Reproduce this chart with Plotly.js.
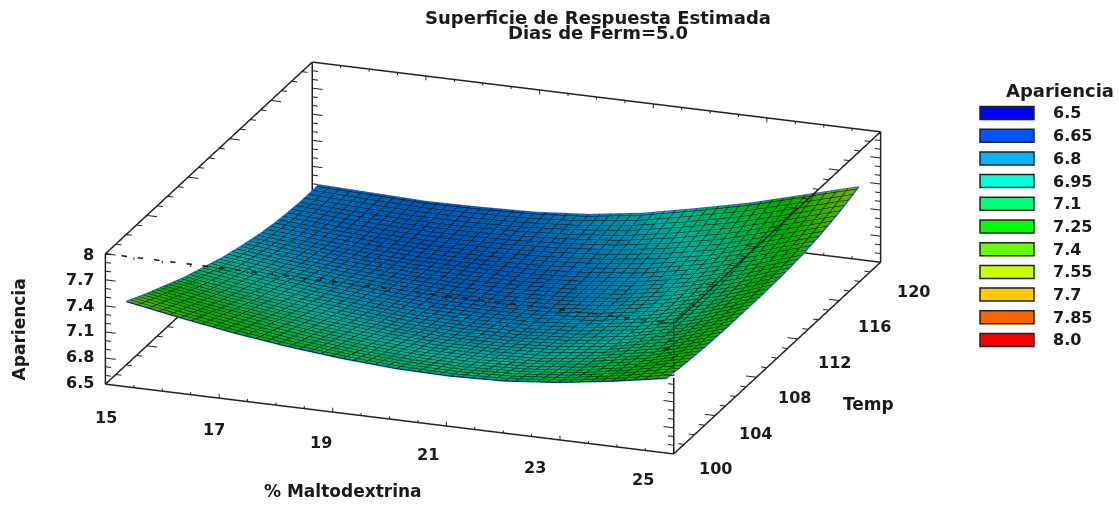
<!DOCTYPE html>
<html>
<head>
<meta charset="utf-8">
<script src="https://cdn.plot.ly/plotly-3.0.1.min.js"></script>
<style>html,body{margin:0;padding:0;background:#fff}#chart{width:1119px;height:505px}</style>
</head>
<body>
<div id="chart"></div>
<script>
// ---- data ----
const maltodextrina = [15.37,16.32,17.27,18.22,19.17,20.12,21.07,22.02,22.97,23.92,24.87];
const temp = [100,101.86,103.72,105.58,107.44,109.3,111.16,113.02,114.88,116.74,118.6];
const apariencia = [
 [7.48,7.37,7.27,7.19,7.13,7.09,7.08,7.10,7.16,7.25,7.36],
 [7.36,7.26,7.17,7.09,7.03,7.00,6.99,7.02,7.08,7.19,7.33],
 [7.25,7.15,7.07,7.00,6.95,6.92,6.92,6.95,7.03,7.14,7.31],
 [7.14,7.05,6.98,6.92,6.87,6.85,6.86,6.90,6.98,7.11,7.30],
 [7.05,6.97,6.90,6.85,6.81,6.80,6.81,6.86,6.95,7.09,7.30],
 [6.96,6.89,6.84,6.79,6.76,6.76,6.78,6.84,6.94,7.09,7.30],
 [6.89,6.83,6.78,6.75,6.73,6.74,6.77,6.83,6.94,7.10,7.31],
 [6.83,6.78,6.74,6.72,6.72,6.73,6.77,6.84,6.96,7.13,7.33],
 [6.79,6.75,6.72,6.71,6.72,6.75,6.80,6.88,7.00,7.18,7.37],
 [6.77,6.74,6.72,6.72,6.74,6.78,6.84,6.95,7.08,7.25,7.43],
 [6.77,6.75,6.73,6.74,6.76,6.81,6.90,7.03,7.17,7.34,7.51]
];
const legendLabels = ['6.5','6.65','6.8','6.95','7.1','7.25','7.4','7.55','7.7','7.85','8.0'];
const legendColors = ['#0000ff','#0055ff','#00b4ff','#00ffdc','#00ff78','#00ff00','#64ff00','#c8ff00','#ffc800','#ff6400','#ff0000'];
const xTicks = [15,17,19,21,23,25];
const yTicks = [100,104,108,112,116,120];
const zTicks = [6.5,6.8,7.1,7.4,7.7,8];
const xRange = [15,25], yRange = [100,120], zRange = [6.5,8];

// ---- helpers ----
const INK = '#222222';
const FONT = 'DejaVu Sans';
const TXT = '#1a1a1a';
function seg(out, a, b){ out.x.push(a[0],b[0],null); out.y.push(a[1],b[1],null); out.z.push(a[2],b[2],null); }
const [x0,x1]=xRange,[y0,y1]=yRange,[z0,z1]=zRange;

const edges={x:[],y:[],z:[]};
[[y0,z0],[y1,z0],[y1,z1]].forEach(([y,z])=>seg(edges,[x0,y,z],[x1,y,z]));
[x0,x1].forEach(x=>[z0,z1].forEach(z=>seg(edges,[x,y0,z],[x,y1,z])));
[[x0,y0],[x0,y1],[x1,y1]].forEach(([x,y])=>seg(edges,[x,y,z0],[x,y,z1]));
seg(edges,[x1,y0,z0],[x1,y0,7.36]);

const dashed={x:[],y:[],z:[]};
seg(dashed,[x0,y0,z1],[x1,y0,z1]);
seg(dashed,[x1,y0,7.36],[x1,y0,z1]);

const ticks={x:[],y:[],z:[]};
for(let i=0;i<=20;i++){const x=x0+i*0.5;
  const l=i%4===0?0.05:0.03;
  [[y0,z0,1],[y1,z0,1],[y1,z1,-1],[y0,z1,-1]].forEach(([y,z,s])=>seg(ticks,[x,y,z],[x,y,z+s*l]));}
for(let i=0;i<=20;i++){const y=y0+i;
  const l=i%4===0?0.18:0.1;
  [[x0,z0,1],[x0,z1,1],[x1,z0,-1],[x1,z1,-1]].forEach(([x,z,s])=>seg(ticks,[x,y,z],[x+s*l,y,z]));}
for(let i=0;i<=15;i++){const z=+(z0+i*0.1).toFixed(1);
  const l=i%3===0?0.18:0.1;
  [[x0,y0,1],[x0,y1,1],[x1,y0,-1],[x1,y1,-1]].forEach(([x,y,s])=>seg(ticks,[x,y,z],[x+s*l,y,z]));}

const rim={x:[],y:[],z:[]};
const nx=maltodextrina.length-1,ny=temp.length-1;
maltodextrina.forEach((x,i)=>{rim.x.push(x);rim.y.push(temp[0]);rim.z.push(apariencia[0][i]);});
temp.forEach((y,j)=>{rim.x.push(maltodextrina[nx]);rim.y.push(y);rim.z.push(apariencia[j][nx]);});
[...maltodextrina].reverse().forEach((x,i)=>{rim.x.push(x);rim.y.push(temp[ny]);rim.z.push(apariencia[ny][nx-i]);});
[...temp].reverse().forEach((y,j)=>{rim.x.push(maltodextrina[0]);rim.y.push(y);rim.z.push(apariencia[ny-j][0]);});

const colorscale = legendColors.map((c,i)=>[i/(legendColors.length-1),c]);

const data=[
 {type:'surface',x:maltodextrina,y:temp,z:apariencia,cmin:6.5,cmax:8,colorscale,showscale:false,hoverinfo:'skip',
  lighting:{ambient:0.68,diffuse:0,specular:0,roughness:1,fresnel:0},
  contours:{
   x:{show:true,start:15.37,end:24.87,size:0.19,color:'#000',width:2,highlight:false},
   y:{show:true,start:100,end:118.6,size:0.41,color:'#000',width:2,highlight:false},
   z:{show:false,highlight:false}}},
 {type:'scatter3d',mode:'lines',...rim,line:{color:'#1f55e8',width:3},hoverinfo:'skip',showlegend:false},
 {type:'scatter3d',mode:'lines',...edges,connectgaps:false,line:{color:INK,width:3},hoverinfo:'skip',showlegend:false},
 {type:'scatter3d',mode:'lines',...dashed,connectgaps:false,line:{color:'#111',width:3,dash:'dash'},hoverinfo:'skip',showlegend:false},
 {type:'scatter3d',mode:'lines',...ticks,connectgaps:false,line:{color:INK,width:2},hoverinfo:'skip',showlegend:false}
];

// the scene's clip box sits a hair outside the drawn frame so boundary lines are not clipped
function axis(vals,range,pad){return {
  title:{text:''},
  range:[range[0]-pad,range[1]+pad],tickmode:'array',tickvals:vals,ticktext:vals.map(String),showticklabels:false,
  showgrid:false,zeroline:false,showline:false,showbackground:false,showspikes:false,ticks:'',autorange:false};}

const k=6, S=2.53;
const sx=x=>x/1119, sy=y=>(505-y)/505;
const LF={family:FONT,size:16,color:TXT};
const TF={family:FONT,size:17,color:TXT};
const sceneNotes=[];
function note(x,y,z,text,dx,dy,extra){sceneNotes.push(Object.assign({x,y,z,text:'<b>'+text+'</b>',showarrow:false,xshift:dx,yshift:-dy,font:LF,xanchor:'center',yanchor:'middle'},extra||{}));}
xTicks.forEach((v,i)=>note(v,y0,z0,String(v),1-6.4*i,33-1.4*i));
yTicks.forEach((v,i)=>note(x1,v,z0,String(v),42-1.8*i,15+2.8*i));
zTicks.forEach((v,i)=>note(x0,y0,v,String(v),-9,-2+i*0.5,{xanchor:'right'}));
note(20,y0,z0,'% Maltodextrina',-47,72,{font:TF});
note(x1,110,z0,'Temp',91,46,{font:TF});
note(x0,y0,7.25,'Apariencia',-86,10,{textangle:-90,font:TF});

const shapes=[],annotations=[
 {xref:'paper',yref:'paper',x:sx(598),y:sy(33),text:'<b>Dias de Ferm=5.0</b>',showarrow:false,xanchor:'center',yanchor:'middle',font:{family:FONT,size:18,color:TXT}},
 {xref:'paper',yref:'paper',x:sx(1060),y:sy(90),text:'<b>Apariencia</b>',showarrow:false,xanchor:'center',yanchor:'middle',font:{family:FONT,size:18,color:TXT}}
];
legendLabels.forEach((t,i)=>{
  const c=113+i*22.7;
  shapes.push({type:'rect',xref:'paper',yref:'paper',x0:sx(980),x1:sx(1034),y0:sy(c+6.5),y1:sy(c-6.5),fillcolor:legendColors[i],line:{color:'#222',width:1.5}});
  annotations.push({xref:'paper',yref:'paper',x:sx(1051),y:sy(c),text:'<b>'+t+'</b>',showarrow:false,xanchor:'left',yanchor:'middle',font:{family:FONT,size:16,color:TXT}});
});

const layout={
 width:1119,height:505,margin:{l:0,r:0,t:0,b:0},paper_bgcolor:'#fff',showlegend:false,
 title:{text:'<b>Superficie de Respuesta Estimada</b>',x:598/1119,xanchor:'center',y:sy(18),yanchor:'middle',font:{family:FONT,size:18,color:TXT}},
 scene:{
  domain:{x:[sx(93),sx(893)],y:[sy(498),sy(18)]},
  aspectmode:'manual',aspectratio:{x:S,y:S,z:0.229*S},
  camera:{projection:{type:'orthographic'},center:{x:0,y:0,z:0},up:{x:0,y:0,z:1},eye:{x:0.3217*k,y:-0.8838*k,z:0.337*k}},
  xaxis:axis(xTicks,xRange,0.02),
  yaxis:axis(yTicks,yRange,0.04),
  zaxis:axis(zTicks,zRange,0.003),
  annotations:sceneNotes
 },
 shapes,annotations
};
Plotly.newPlot('chart',data,layout,{displayModeBar:false});
</script>
</body>
</html>
